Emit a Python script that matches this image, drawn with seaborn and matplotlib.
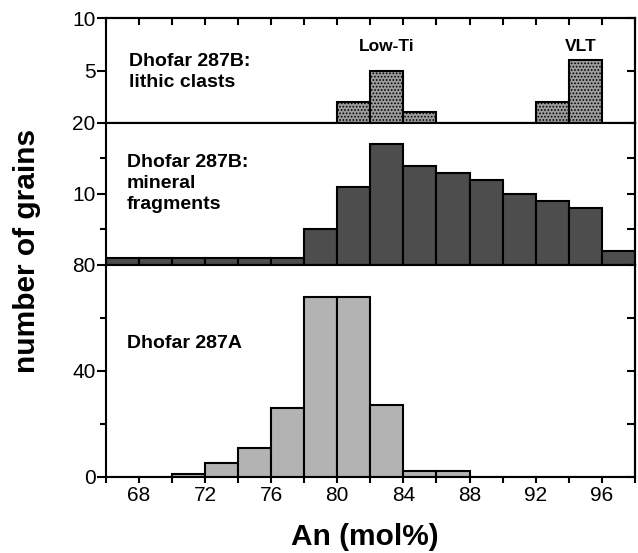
import numpy as np
import pandas as pd
import matplotlib
matplotlib.use("Agg")
import matplotlib.pyplot as plt
import seaborn as sns

sns.set_style("ticks")
plt.rcParams['font.family'] = ['Liberation Sans', 'DejaVu Sans']
plt.rcParams['hatch.color'] = '#eeeeee'
plt.rcParams['hatch.linewidth'] = 0.8
for k in ['text.color', 'axes.labelcolor', 'xtick.color', 'ytick.color',
          'axes.edgecolor']:
    plt.rcParams[k] = 'black'

# Data (bin lower edges, bin width 2 mol%)
bin_width = 2
lithic_bins = [80, 82, 84, 92, 94]
lithic_counts = [2, 5, 1, 2, 6]
mineral_bins = [66, 68, 70, 72, 74, 76, 78, 80, 82, 84, 86, 88, 90, 92, 94, 96]
mineral_counts = [1, 1, 1, 1, 1, 1, 5, 11, 17, 14, 13, 12, 10, 9, 8, 2]
a_bins = [70, 72, 74, 76, 78, 80, 82, 84, 86]
a_counts = [1, 5, 11, 26, 68, 68, 27, 2, 2]
x_labels = [68, 72, 76, 80, 84, 88, 92, 96]

edges = list(range(66, 98 + bin_width, bin_width))

fig = plt.figure(figsize=(6.38, 5.53), dpi=100)
L, W = 0.166, 0.829
ax1 = fig.add_axes([L, 0.7776, W, 0.9674 - 0.7776])
ax2 = fig.add_axes([L, 0.5208, W, 0.7776 - 0.5208])
ax3 = fig.add_axes([L, 0.1380, W, 0.5208 - 0.1380])

def draw(ax, bins, counts, color, hatch=None):
    df = pd.DataFrame({'center': [b + bin_width / 2 for b in bins],
                       'count': counts})
    kw = {}
    if hatch:
        kw['hatch'] = hatch
    sns.histplot(data=df, x='center', weights='count', bins=edges, ax=ax,
                 color=color, alpha=1, edgecolor='black', linewidth=1.5, **kw)
    ax.set_xlim(66, 98)
    ax.set_xlabel('')
    ax.set_ylabel('')
    for s in ax.spines.values():
        s.set_linewidth(1.5)
        s.set_visible(True)
        s.set_color('black')

draw(ax1, lithic_bins, lithic_counts, '#9c9c9c', hatch='.....')
draw(ax2, mineral_bins, mineral_counts, '#4d4d4d')
draw(ax3, a_bins, a_counts, '#b3b3b3')

ax1.set_ylim(0, 10)
ax2.set_ylim(0, 20)
ax3.set_ylim(0, 80)

ax1.set_yticks([5, 10])
ax2.set_yticks([10, 20])
ax2.set_yticks([5, 15], minor=True)
ax3.set_yticks([0, 40, 80])
ax3.set_yticks([20, 60], minor=True)

for ax in (ax1, ax2, ax3):
    ax.tick_params(axis='y', which='major', direction='out', length=6.5,
                   width=1.5, labelsize=15, pad=1)
    ax.tick_params(axis='y', which='minor', direction='out', length=4.5,
                   width=1.5)
    sec = ax.secondary_yaxis('right')
    sec.set_yticks(list(ax.get_yticks()) + list(ax.get_yticks(minor=True)))
    sec.tick_params(axis='y', direction='in', length=6, width=1.5,
                    labelright=False)
    sec.spines['right'].set_linewidth(1.5)

for ax in (ax1, ax2):
    ax.tick_params(axis='x', which='both', bottom=False, labelbottom=False)

sec_top = ax1.secondary_xaxis('top')
sec_top.set_xticks(edges)
sec_top.tick_params(axis='x', direction='in', length=5, width=1.5,
                    labeltop=False)
sec_top.spines['top'].set_linewidth(1.5)

ax3.set_xticks(x_labels)
ax3.set_xticks(edges, minor=True)
ax3.tick_params(axis='x', which='both', direction='out', length=4,
                width=1.5, labelsize=15, pad=3)

ax1.text(0.044, 0.665, 'Dhofar 287B:\nlithic clasts', transform=ax1.transAxes,
         fontsize=14, fontweight='bold', va='top', ha='left', linespacing=1.3)
ax2.text(0.040, 0.78, 'Dhofar 287B:\nmineral\nfragments', transform=ax2.transAxes,
         fontsize=14, fontweight='bold', va='top', ha='left', linespacing=1.28)
ax3.text(0.040, 0.67, 'Dhofar 287A', transform=ax3.transAxes,
         fontsize=14, fontweight='bold', va='top', ha='left')
ax1.text(83, 8.0, 'Low-Ti', fontsize=12.5, fontweight='bold', ha='center', va='top')
ax1.text(94.7, 8.0, 'VLT', fontsize=12.5, fontweight='bold', ha='center', va='top')

fig.text(0.042, 0.546, 'number of grains', rotation=90, fontsize=21.5,
         fontweight='bold', ha='center', va='center')
fig.text(0.572, 0.029, 'An (mol%)', fontsize=21.5, fontweight='bold',
         ha='center', va='center')

fig.savefig('out.png', dpi=100)
